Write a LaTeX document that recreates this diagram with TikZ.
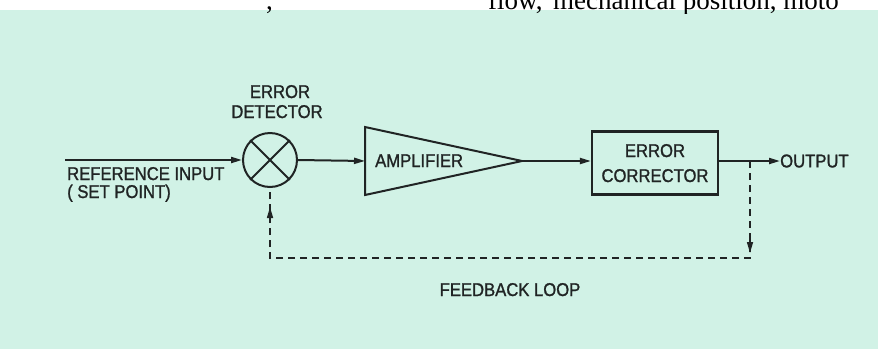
\documentclass[tikz,border=0pt]{standalone}
\usepackage{fontspec}
\newfontfamily\lbl[FakeStretch=0.9,FakeBold=1.2]{Liberation Sans}
\newfontfamily\serifx{Liberation Serif}
\usetikzlibrary{arrows.meta,calc}
\definecolor{mint}{RGB}{209,242,230}
\definecolor{ink}{RGB}{32,36,36}
\begin{document}
\begin{tikzpicture}[x=1pt,y=-1pt,
  wire/.style={draw=ink,line width=2pt},
  tip/.style={-{Triangle[length=11pt,width=6pt]}},
  fb/.style={draw=ink,line width=1.5pt,dash pattern=on 7pt off 5pt},
  txt/.style={text=ink,font=\lbl\fontsize{18.5}{20}\selectfont,inner sep=0pt},
  toptxt/.style={text=black,font=\serifx\fontsize{27}{27}\selectfont,inner sep=0pt,anchor=base west}]
\useasboundingbox (0,0) rectangle (878,349);
\fill[white] (0,0) rectangle (878,10);
\fill[mint] (0,10) rectangle (878,349);
\begin{scope}
\clip (0,0) rectangle (878,13);
\node[toptxt] (t0) at (266,9) {,};
\node[toptxt] (t1) at (488,9) {flow,};
\node[toptxt] (t2) at (553,9) {mechanical position, moto};
\end{scope}
% nodes
\coordinate (in) at (65,160);
\node[circle,draw=ink,line width=2pt,minimum size=54pt,inner sep=0pt] (det) at (270,160) {};
\draw[ink,line width=2pt] (det.45) -- (det.225) (det.135) -- (det.315);
\node[txt,anchor=base] (detl1) at (280,98) {ERROR};
\node[txt,anchor=base] (detl2) at (277,118) {DETECTOR};
\node[txt,anchor=base west] (ref1) at (67,180) {REFERENCE INPUT};
\node[txt,anchor=base west] (ref2) at (67,198) {( SET POINT)};
% amplifier
\coordinate (ampL) at (365,161);
\coordinate (ampT) at (365,127);
\coordinate (ampB) at (365,195);
\coordinate (ampR) at (522,161);
\draw[wire,line join=miter] (ampT) -- (ampR) -- (ampB) -- cycle;
\node[txt,anchor=base west] (ampl) at (375,167) {AMPLIFIER};
% corrector
\node[draw=ink,line width=2.2pt,minimum width=126pt,minimum height=63pt,inner sep=0pt] (corr) at (655,163) {};
\node[txt,anchor=base] (corr1) at (655,157) {ERROR};
\node[txt,anchor=base] (corr2) at (655,182) {CORRECTOR};
\node[txt,anchor=west] (out) at (780,161) {OUTPUT};
% connectors
\draw[wire,tip] (in) -- (det.west);
\draw[wire,tip] (det.east) -- (ampL);
\draw[wire,tip] (ampR) -- (corr.west |- ampR);
\draw[wire,tip] (corr.east |- ampR) -- (out.west);
% feedback loop
\coordinate (tap) at (750,161);
\coordinate (fbR) at (750,258);
\coordinate (fbL) at (270,258);
\coordinate (fbA) at (270,207);
\coordinate (fbB) at (750,253);
\draw[fb] (tap) -- (fbR) -- (fbL) -- (det.south);
\draw[ink,line width=1.5pt,-{Triangle[length=11pt,width=6pt]}] (750,240) -- (fbB);
\draw[ink,line width=1.5pt,-{Triangle[length=11pt,width=6pt]}] (270,222) -- (fbA);
\node[txt,anchor=base] (fbl) at (510,296) {FEEDBACK LOOP};
\end{tikzpicture}
\end{document}
